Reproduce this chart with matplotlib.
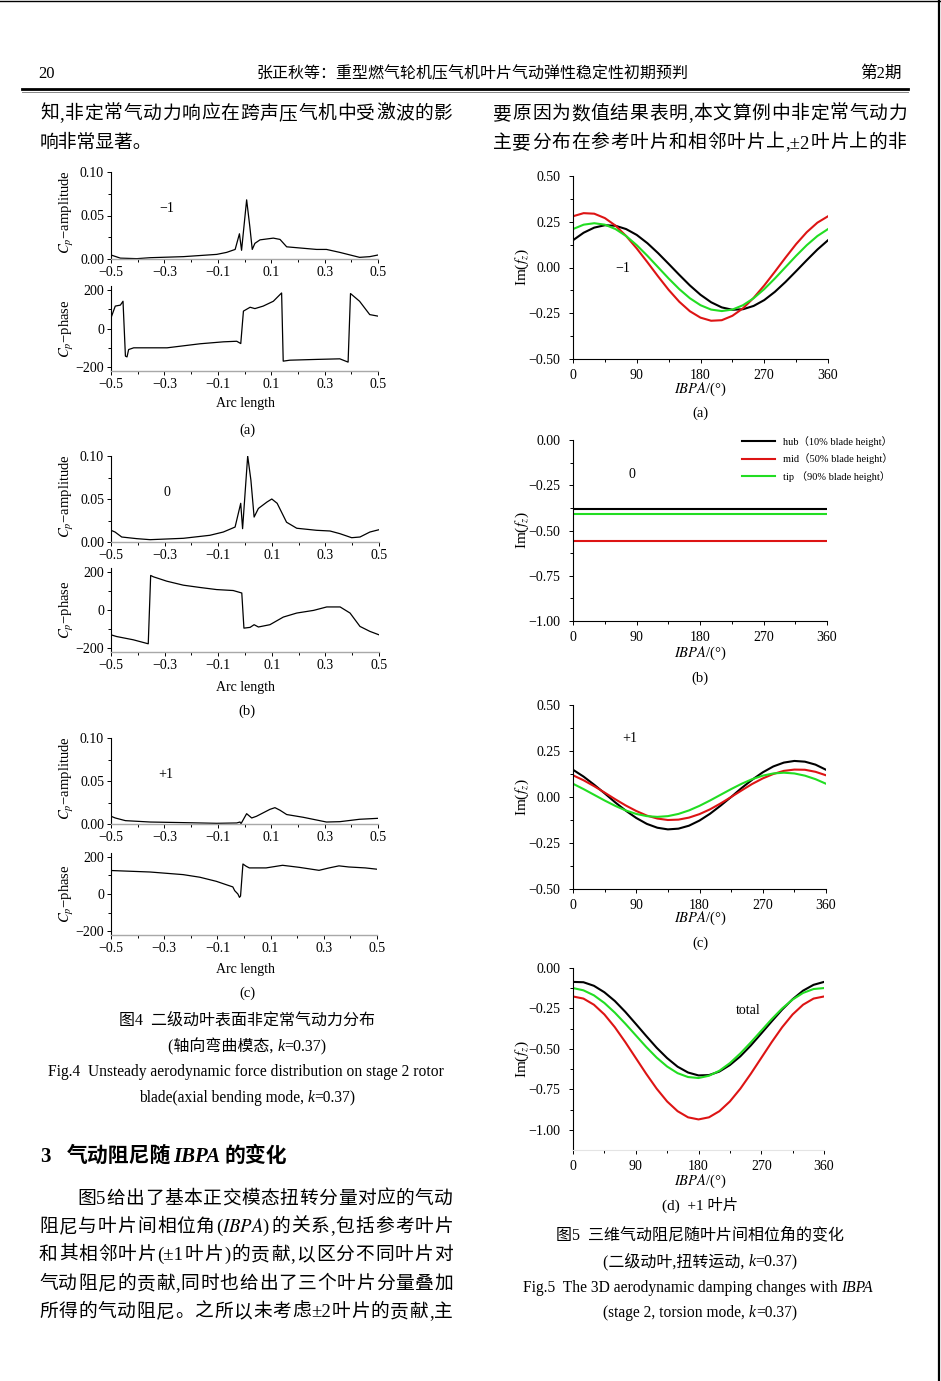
# Page reproduction: Fig.4 (Cp distributions) and Fig.5 (aero damping vs IBPA)
import matplotlib
matplotlib.use('Agg')
from matplotlib import pyplot as plt
from matplotlib.lines import Line2D
from matplotlib.ticker import FixedLocator, FuncFormatter

plt.rcParams['font.family'] = ['Liberation Serif', 'Noto Sans CJK SC']
plt.rcParams['mathtext.fontset'] = 'stix'
plt.rcParams['axes.unicode_minus'] = True

W, H = 941, 1381

# ---------------- data: Fig.4, left column ----------------
arc_a_amp = [-0.5, -0.465, -0.403, -0.353, -0.229, -0.104, -0.067, -0.035, -0.019, -0.011,
             0.008, 0.02, 0.029, 0.039, 0.058, 0.108, 0.133, 0.158, 0.27, 0.307, 0.357,
             0.431, 0.469, 0.5]
amp_a = [0.0046, 0.001, 0.0004, 0.0015, 0.0027, 0.0053, 0.0076, 0.011, 0.029, 0.010,
         0.068, 0.037, 0.011, 0.018, 0.022, 0.024, 0.0225, 0.014, 0.011, 0.011, 0.0076,
         0.0019, 0.0027, 0.0046]
arc_a_ph = [-0.5, -0.484, -0.465, -0.455, -0.446, -0.44, -0.434, -0.415, -0.29, -0.166,
            -0.079, -0.029, -0.014, -0.004, 0.021, 0.039, 0.07, 0.108, 0.139, 0.145, 0.17,
            0.27, 0.357, 0.388, 0.397, 0.431, 0.469, 0.5]
ph_a = [55, 116, 121, 141, -143, -147, -109, -100, -100, -79, -69, -66, -78, 90, 110, 103,
        116, 141, 184, -169, -164, -160, -157, -174, 181, 141, 72, 64]

arc_b_amp = [-0.5, -0.485, -0.46, -0.404, -0.354, -0.23, -0.131, -0.081, -0.037, -0.016,
             -0.009, 0.01, 0.022, 0.034, 0.05, 0.082, 0.1, 0.12, 0.155, 0.193, 0.267,
             0.317, 0.354, 0.398, 0.429, 0.466, 0.5]
amp_b = [0.0136, 0.0116, 0.0058, 0.0039, 0.0027, 0.0043, 0.0078, 0.0116, 0.0174, 0.045,
         0.0155, 0.10, 0.072, 0.029, 0.039, 0.0465, 0.050, 0.045, 0.023, 0.016, 0.0136,
         0.0128, 0.0097, 0.005, 0.0058, 0.0116, 0.0143]
arc_b_ph = [-0.5, -0.479, -0.417, -0.361, -0.352, -0.342, -0.292, -0.23, -0.168, -0.106,
            -0.044, -0.012, -0.004, 0.019, 0.034, 0.05, 0.093, 0.143, 0.193, 0.256, 0.305,
            0.355, 0.392, 0.429, 0.466, 0.5]
ph_b = [-130, -139, -156, -177, 181, 174, 151, 130, 118, 107, 102, 89, -95, -91, -77, -89,
        -77, -37, -16, -2, 16, 16, -16, -86, -112, -130]

arc_c_amp = [-0.5, -0.484, -0.446, -0.353, -0.229, -0.104, -0.029, -0.017, -0.013, 0.008,
             0.027, 0.045, 0.095, 0.114, 0.133, 0.158, 0.22, 0.307, 0.357, 0.431, 0.5]
amp_c = [0.009, 0.007, 0.0039, 0.0023, 0.0016, 0.0008, 0.0012, 0.0023, 0.0004, 0.012,
         0.007, 0.009, 0.017, 0.019, 0.016, 0.011, 0.0078, 0.0023, 0.0027, 0.0055, 0.0066]
arc_c_ph = [-0.5, -0.353, -0.229, -0.166, -0.104, -0.067, -0.042, -0.035, -0.023, -0.017,
            -0.013, -0.004, 0.008, 0.02, 0.083, 0.145, 0.208, 0.282, 0.32, 0.357, 0.394,
            0.456, 0.5]
ph_c = [126, 118, 104, 90, 68, 50, 38, 18, 0, -18, -11, 161, 149, 140, 140, 154, 143, 127,
        140, 151, 145, 140, 133]

# ---------------- data: Fig.5, right column ----------------
ibpa = [0, 15, 30, 45, 60, 75, 90, 105, 120, 135, 150, 165, 180, 195, 210, 225, 240, 255,
        270, 285, 300, 315, 330, 345, 360]
hub_a = [0.149, 0.190, 0.218, 0.231, 0.228, 0.210, 0.178, 0.133, 0.079, 0.020, -0.040,
         -0.098, -0.149, -0.190, -0.218, -0.231, -0.228, -0.210, -0.178, -0.133, -0.079,
         -0.020, 0.040, 0.098, 0.149]
mid_a = [0.280, 0.297, 0.294, 0.270, 0.229, 0.172, 0.104, 0.029, -0.048, -0.122, -0.187,
         -0.239, -0.274, -0.291, -0.288, -0.264, -0.223, -0.166, -0.098, -0.023, 0.054,
         0.128, 0.193, 0.245, 0.280]
tip_a = [0.210, 0.234, 0.242, 0.234, 0.210, 0.172, 0.122, 0.064, 0.002, -0.060, -0.118,
         -0.168, -0.206, -0.230, -0.238, -0.230, -0.206, -0.168, -0.118, -0.060, 0.002,
         0.064, 0.122, 0.172, 0.210]

ibpa_b = [0, 360]
hub_b = [-0.38, -0.38]
mid_b = [-0.56, -0.56]
tip_b = [-0.41, -0.41]

hub_c = [0.148, 0.111, 0.067, 0.020, -0.029, -0.074, -0.114, -0.146, -0.167, -0.176,
         -0.172, -0.156, -0.128, -0.091, -0.047, 0.000, 0.049, 0.094, 0.134, 0.166, 0.187,
         0.196, 0.192, 0.176, 0.148]
mid_c = [0.118, 0.091, 0.059, 0.024, -0.012, -0.046, -0.076, -0.101, -0.117, -0.125,
         -0.123, -0.112, -0.093, -0.067, -0.035, 0.000, 0.036, 0.071, 0.101, 0.125, 0.142,
         0.149, 0.148, 0.137, 0.118]
tip_c = [0.072, 0.043, 0.012, -0.019, -0.048, -0.073, -0.092, -0.104, -0.108, -0.104,
         -0.092, -0.073, -0.048, -0.019, 0.012, 0.043, 0.072, 0.097, 0.116, 0.128, 0.132,
         0.128, 0.116, 0.097, 0.072]

hub_d = [-0.086, -0.088, -0.110, -0.150, -0.204, -0.271, -0.345, -0.420, -0.493, -0.557,
         -0.610, -0.646, -0.664, -0.662, -0.640, -0.600, -0.546, -0.479, -0.405, -0.330,
         -0.257, -0.193, -0.140, -0.104, -0.086]
mid_d = [-0.176, -0.189, -0.227, -0.287, -0.366, -0.458, -0.556, -0.654, -0.746, -0.825,
         -0.885, -0.923, -0.936, -0.923, -0.885, -0.825, -0.746, -0.654, -0.556, -0.458,
         -0.366, -0.287, -0.227, -0.189, -0.176]
tip_d = [-0.124, -0.138, -0.169, -0.216, -0.276, -0.344, -0.416, -0.488, -0.554, -0.609,
         -0.650, -0.674, -0.680, -0.666, -0.635, -0.588, -0.528, -0.460, -0.388, -0.316,
         -0.250, -0.195, -0.154, -0.130, -0.124]

legend_labels = ['hub（10% blade height）', 'mid（50% blade height）', 'tip （90% blade height）']
colors = ['#000000', '#dd1414', '#22dd22']

fig = plt.figure(figsize=(W / 100, H / 100), dpi=100)
renderer = fig.canvas.get_renderer()


def fx(x):
    return x / W


def fy(y):
    return 1 - y / H


def add_ax(x0, y0, x1, y1):
    return fig.add_axes([x0 / W, 1 - y1 / H, (x1 - x0) / W, (y1 - y0) / H])


def txt(x, y, s, size=10, ha='center', va='center', **kw):
    return fig.text(fx(x), fy(y), s, fontsize=size, ha=ha, va=va, **kw)


def justify(line, x0, x1, y, size=13.5):
    # spread the tokens of one line of body text across the column width
    toks, buf = [], ''
    for ch in line:
        if ord(ch) > 0x2e80:
            if buf:
                toks.append(buf)
                buf = ''
            toks.append(ch)
        else:
            buf += ch
    if buf:
        toks.append(buf)
    objs = [fig.text(0, fy(y), t, fontsize=size, ha='left', va='baseline') for t in toks]
    widths = [o.get_window_extent(renderer).width for o in objs]
    gap = (x1 - x0 - sum(widths)) / (len(toks) - 1)
    x = x0
    for o, w in zip(objs, widths):
        o.set_x(fx(x))
        x += w + gap


def rich(xc, y, segs, size):
    # centred line built from pieces with different styles (baseline y)
    objs = [fig.text(0, fy(y), s, fontsize=size, ha='left', va='baseline', **kw)
            for s, kw in segs]
    widths = [o.get_window_extent(renderer).width for o in objs]
    x = xc - sum(widths) / 2
    for o, w in zip(objs, widths):
        o.set_x(fx(x))
        x += w


def num_fmt(dec):
    def f(v, pos):
        s = f'{v:.{dec}f}'
        if s.startswith('-'):
            s = '\u2212' + s[1:]
        if s.strip('\u22120.') == '':
            s = f'{0:.{dec}f}'
        return s
    return FuncFormatter(f)


def style(ax, bottom_color='#a8a8a8'):
    for side in ['top', 'right']:
        ax.spines[side].set_visible(False)
    ax.spines['left'].set_linewidth(0.8)
    ax.spines['bottom'].set_linewidth(1.0)
    ax.spines['bottom'].set_color(bottom_color)
    ax.tick_params(which='both', direction='out', labelsize=10, pad=2, width=0.7)
    ax.tick_params(which='major', length=3)
    ax.tick_params(which='minor', length=2)
    ax.patch.set_alpha(0)


def left_panel(box_amp, box_ph, arc1, amp, arc2, ph, tag, tag_xy, xlab_y, letter, letter_y):
    ax = add_ax(*box_amp)
    ax.plot(arc1, amp, color='k', lw=0.9)
    ax.set_xlim(-0.5, 0.5)
    ax.set_ylim(0, 0.10)
    ax.yaxis.set_major_locator(FixedLocator([0, 0.05, 0.10]))
    ax.yaxis.set_minor_locator(FixedLocator([0.025, 0.075]))
    ax.yaxis.set_major_formatter(num_fmt(2))
    ax.xaxis.set_major_locator(FixedLocator([-0.5, -0.3, -0.1, 0.1, 0.3, 0.5]))
    ax.xaxis.set_minor_locator(FixedLocator([-0.4, -0.2, 0.0, 0.2, 0.4]))
    ax.xaxis.set_major_formatter(num_fmt(1))
    style(ax)
    txt(67, (box_amp[1] + box_amp[3]) / 2 - 3, '$C_p$\u2212amplitude', size=10.5, rotation=90)
    txt(tag_xy[0], tag_xy[1], tag)

    ax2 = add_ax(*box_ph)
    ax2.plot(arc2, ph, color='k', lw=0.9)
    ax2.set_xlim(-0.5, 0.5)
    ax2.set_ylim(-220, 220)
    ax2.yaxis.set_major_locator(FixedLocator([-200, 0, 200]))
    ax2.yaxis.set_minor_locator(FixedLocator([-100, 100]))
    ax2.yaxis.set_major_formatter(num_fmt(0))
    ax2.xaxis.set_major_locator(FixedLocator([-0.5, -0.3, -0.1, 0.1, 0.3, 0.5]))
    ax2.xaxis.set_minor_locator(FixedLocator([-0.4, -0.2, 0.0, 0.2, 0.4]))
    ax2.xaxis.set_major_formatter(num_fmt(1))
    style(ax2)
    txt(67, (box_ph[1] + box_ph[3]) / 2, '$C_p$\u2212phase', size=10.5, rotation=90)
    txt(245, xlab_y, 'Arc length')
    txt(247, letter_y, letter, size=10.5)


def right_panel(box, xs, series, ylim, yticks, tag, tag_xy, xlab_y, letter, letter_y,
                bottom_color='k', legend=False):
    ax = add_ax(*box)
    for ys, c, lab in zip(series, colors, legend_labels):
        ax.plot(xs, ys, color=c, lw=1.5, label=lab)
    ax.set_xlim(0, 360)
    ax.set_ylim(*ylim)
    ax.xaxis.set_major_locator(FixedLocator([0, 90, 180, 270, 360]))
    ax.xaxis.set_minor_locator(FixedLocator([45, 135, 225, 315]))
    ax.yaxis.set_major_locator(FixedLocator(yticks))
    minors = [(a + b) / 2 for a, b in zip(yticks[:-1], yticks[1:])]
    ax.yaxis.set_minor_locator(FixedLocator(minors))
    ax.yaxis.set_major_formatter(num_fmt(2))
    style(ax, bottom_color)
    ax.spines['bottom'].set_linewidth(0.8)
    ax.tick_params(axis='y', pad=6)
    ax.tick_params(axis='x', pad=4)
    txt(522, (box[1] + box[3]) / 2, r'Im($f_z$)', size=11, rotation=90)
    txt(tag_xy[0], tag_xy[1], tag)
    txt(700, xlab_y, r'$\mathit{IBPA}$/(°)', size=10.5)
    if legend:
        ax.legend(loc='upper left', bbox_to_anchor=(fx(742), fy(436)),
                  bbox_transform=fig.transFigure, frameon=False, borderpad=0,
                  borderaxespad=0, handlelength=3.2, handletextpad=0.7, labelspacing=0.62,
                  prop={'family': ['Liberation Serif', 'Noto Sans CJK SC'], 'size': 7.5})
    if letter:
        txt(700, letter_y, letter, size=10.5)


# ---------------- page furniture ----------------
fig.add_artist(Line2D([0, 1], [fy(0.5), fy(0.5)], transform=fig.transFigure, color='k', lw=1))
fig.add_artist(Line2D([fx(939), fx(939)], [0, 1], transform=fig.transFigure, color='k', lw=1.6))
fig.add_artist(Line2D([fx(22), fx(908)], [fy(89), fy(89)], transform=fig.transFigure,
                      color='k', lw=2.0))
fig.add_artist(Line2D([fx(22), fx(908)], [fy(91.8), fy(91.8)], transform=fig.transFigure,
                      color='#888888', lw=0.7))

txt(38, 74, '20', size=12, ha='left')
txt(473, 74, '张正秋等：重型燃气轮机压气机叶片气动弹性稳定性初期预判', size=11.5)
txt(902, 74, '第2期', size=12, ha='right')

justify('知,非定常气动力响应在跨声压气机中受激波的影', 40, 453, 119)
txt(40, 148, '响非常显著。', size=13.5, ha='left', va='baseline')
justify('要原因为数值结果表明,本文算例中非定常气动力', 493, 907, 119)
justify('主要分布在参考叶片和相邻叶片上,±2叶片上的非', 493, 907, 148)

# ---------------- Fig.4 ----------------
left_panel((111, 172, 378, 259), (111, 286, 378, 371), arc_a_amp, amp_a, arc_a_ph, ph_a,
           '\u22121', (167, 209), 404, '(a)', 430)
left_panel((111, 456, 379, 542), (111, 568, 379, 652), arc_b_amp, amp_b, arc_b_ph, ph_b,
           '0', (167, 492), 688, '(b)', 711)
left_panel((111, 738, 378, 824), (111, 853, 377, 935), arc_c_amp, amp_c, arc_c_ph, ph_c,
           '+1', (166, 775), 969, '(c)', 993)

ital = {'fontstyle': 'italic', 'family': 'Liberation Serif'}
rich(247, 1025, [('图4  二级动叶表面非定常气动力分布', {})], 11.5)
rich(247, 1051, [('(轴向弯曲模态, ', {}), ('k', ital), ('=0.37)', {})], 11.5)
rich(246, 1076, [('Fig.4  Unsteady aerodynamic force distribution on stage 2 rotor', {})], 11.2)
rich(247, 1102, [('blade(axial bending mode, ', {}), ('k', ital), ('=0.37)', {})], 11.2)

# ---------------- Fig.5 ----------------
right_panel((573, 176, 828, 359), ibpa, [hub_a, mid_a, tip_a], (-0.5, 0.5),
            [-0.5, -0.25, 0, 0.25, 0.5], '\u22121', (623, 269), 389, '(a)', 413)
right_panel((573, 440, 827, 621), ibpa_b, [hub_b, mid_b, tip_b], (-1.0, 0.0),
            [-1.0, -0.75, -0.5, -0.25, 0.0], '0', (632, 475), 653, '(b)', 678, legend=True)
right_panel((573, 705, 826, 889), ibpa, [hub_c, mid_c, tip_c], (-0.5, 0.5),
            [-0.5, -0.25, 0, 0.25, 0.5], '+1', (630, 739), 918, '(c)', 943)
right_panel((573, 968, 824, 1150), ibpa, [hub_d, mid_d, tip_d], (-1.125, 0.0),
            [-1.0, -0.75, -0.5, -0.25, 0.0], 'total', (748, 1011), 1181, None, 1206,
            bottom_color='#e4e4e4')

rich(700, 1210, [('(d)  +1 叶片', {})], 11)
rich(700, 1239, [('图5  三维气动阻尼随叶片间相位角的变化', {})], 11.5)
rich(700, 1266, [('(二级动叶,扭转运动, ', {}), ('k', ital), ('=0.37)', {})], 11.5)
rich(698, 1292, [('Fig.5  The 3D aerodynamic damping changes with ', {}), ('IBPA', ital)], 11.2)
rich(700, 1317, [('(stage 2, torsion mode, ', {}), ('k', ital), ('=0.37)', {})], 11.2)

# ---------------- section 3 ----------------
txt(40, 1157, '3', size=15, ha='left', fontweight='bold')
txt(67, 1157, '气动阻尼随', size=15, ha='left', fontweight='bold')
txt(173, 1157, 'IBPA', size=15, ha='left', fontweight='bold', fontstyle='italic')
txt(224, 1157, '的变化', size=15, ha='left', fontweight='bold')

justify('图5给出了基本正交模态扭转分量对应的气动', 77, 453, 1204)
justify('阻尼与叶片间相位角($\\mathit{IBPA}$)的关系,包括参考叶片', 39, 453, 1232)
justify('和其相邻叶片(±1叶片)的贡献,以区分不同叶片对', 39, 453, 1260)
justify('气动阻尼的贡献,同时也给出了三个叶片分量叠加', 39, 453, 1289)
justify('所得的气动阻尼。之所以未考虑±2叶片的贡献,主', 39, 453, 1317)

fig.savefig('out.png', dpi=100)
